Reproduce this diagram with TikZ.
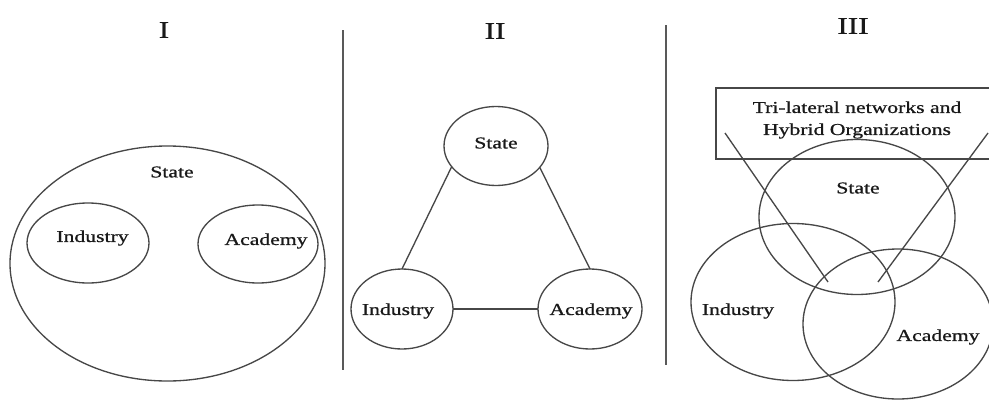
\documentclass[tikz,border=0pt]{standalone}
\usepackage{fontspec}
\setmainfont{Liberation Serif}
\newfontfamily\lblfont{Liberation Serif}[FakeBold=0.7]
\usetikzlibrary{shapes.geometric}
\begin{document}
\begin{tikzpicture}[x=0.75pt,y=-0.75pt,
  ink/.style={draw=black!72, line width=1pt},
  ell/.style={ink, ellipse, inner sep=0pt, outer sep=0pt},
  lbl/.style={inner sep=0pt, text=black!90, font=\lblfont\fontsize{12.5}{16.5}\selectfont, xscale=1.3, align=center},
  ttl/.style={inner sep=0pt, text=black!90, font=\lblfont\fontsize{18}{20}\selectfont, xscale=1.3},
  divider/.style={draw=black!65, line width=1.4pt}]
\clip (0,0) rectangle (989,400);
\fill[white] (0,0) rectangle (989,400);

% panel titles
\node[ttl] (t1) at (164,30) {I};
\node[ttl] (t2) at (495,31) {II};
\node[ttl] (t3) at (853,26) {III};

% vertical separators
\coordinate (d1a) at (343,30);  \coordinate (d1b) at (343,370);
\coordinate (d2a) at (666,25);  \coordinate (d2b) at (666,365);
\draw[divider] (d1a) -- (d1b);
\draw[divider] (d2a) -- (d2b);

% I: state encompassing industry and academy
\node[ell, minimum width=236.25pt, minimum height=176.25pt] (bigI) at (167.5,263.5) {};
\node[ell, minimum width=91.5pt, minimum height=60pt] (indI) at (88,243) {};
\node[ell, minimum width=90pt, minimum height=58.5pt] (acaI) at (258,244) {};
\node[lbl] (sI) at (172,172) {State};
\node[lbl] (iI) at (92.5,238) {Industry};
\node[lbl] (aI) at (266,241) {Academy};

% II: separate spheres linked pairwise
\node[ell, minimum width=78pt, minimum height=59.25pt] (staII) at (496,146) {};
\node[ell, minimum width=76.5pt, minimum height=60pt] (indII) at (402,309) {};
\node[ell, minimum width=78pt, minimum height=60pt] (acaII) at (590,309) {};
\node[lbl] (sII) at (496,143) {State};
\node[lbl] (iII) at (398,311) {Industry};
\node[lbl] (aII) at (591,311) {Academy};
\draw[ink] (staII.205) -- (indII.north);
\draw[ink] (staII.334) -- (acaII.north);
\draw[ink] (indII.east) -- (acaII.west);

% III: overlapping spheres with hybrid organizations
\node[draw=black!72, line width=1pt, inner sep=0pt, minimum width=207pt, minimum height=53.25pt] (box) at (854,123.5) {};
\node[lbl] (boxtxt) at (857,120) {Tri-lateral networks and\\Hybrid Organizations};
\node[ell, minimum width=147pt, minimum height=116.25pt] (staIII) at (857,217) {};
\node[ell, minimum width=153pt, minimum height=117.75pt] (indIII) at (793,302) {};
\node[ell, minimum width=142.5pt, minimum height=112.5pt] (acaIII) at (898,324) {};
\node[lbl] (sIII) at (858,188) {State};
\node[lbl] (iIII) at (738,311) {Industry};
\node[lbl] (aIII) at (938,337) {Academy};
\coordinate (p1a) at (725,133); \coordinate (p1b) at (828,282);
\coordinate (p2a) at (988,133); \coordinate (p2b) at (878,282);
\draw[ink] (p1a) -- (p1b);
\draw[ink] (p2a) -- (p2b);
\end{tikzpicture}
\end{document}
